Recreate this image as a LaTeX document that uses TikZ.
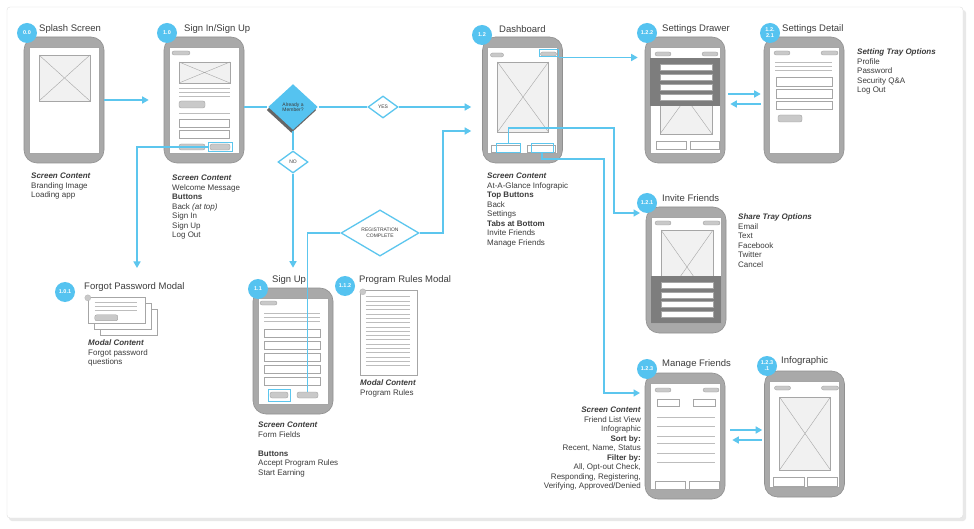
\documentclass[tikz,border=0pt]{standalone}
\usepackage{fontspec}
\setmainfont{Liberation Sans}
\setsansfont{Liberation Sans}
\usepackage{tikz}
\usetikzlibrary{arrows.meta,positioning,calc,shapes.geometric}
\definecolor{flowblue}{HTML}{5CC6EE}
\definecolor{badgeblue}{HTML}{55C3F0}
\definecolor{phonegray}{HTML}{A9A9A9}
\definecolor{phoneedge}{HTML}{909090}
\definecolor{uigray}{HTML}{C9C9C9}
\definecolor{lineg}{HTML}{BDBDBD}
\definecolor{darkui}{HTML}{7D7D7D}
\definecolor{phfill}{HTML}{F1F1F1}
\definecolor{txt}{HTML}{3C3C3C}
\tikzset{
  phone/.style={
    draw=phoneedge,fill=phonegray,rounded corners=13pt,
    minimum width=80pt,minimum height=126pt,inner sep=0,line width=.6pt
  },
  screen/.style={
    draw=gray!70,fill=white,minimum width=70pt,minimum height=106pt,
    inner sep=0,line width=.4pt
  },
  badge/.style={
    circle,fill=badgeblue,minimum size=20pt,inner sep=0,text=white,
    align=center,font=\bfseries\fontsize{5.5}{6}\selectfont
  },
  ttl/.style={anchor=west,inner sep=0,text=txt,font=\fontsize{9.5}{11}\selectfont},
  notes/.style={
    anchor=north west,inner sep=0,align=left,text=txt,
    font=\fontsize{8}{9.5}\selectfont
  },
  pill/.style={fill=uigray,draw=gray!80,rounded corners=2pt,line width=.3pt,inner sep=0},
  field/.style={draw=gray!70,fill=white,line width=.4pt,inner sep=0},
  uiline/.style={draw=lineg,line width=.8pt},
  img/.style={
    draw=gray!70,fill=phfill,line width=.4pt,
    path picture={\draw[gray!70,line width=.4pt]
      (path picture bounding box.north west)--(path picture bounding box.south east)
      (path picture bounding box.north east)--(path picture bounding box.south west);}
  },
  hilite/.style={draw=flowblue,line width=1pt,inner sep=0},
  decision/.style={
    diamond,draw=flowblue,fill=white,line width=1.3pt,inner sep=0,
    align=center,text=txt,font=\fontsize{5}{5.5}\selectfont
  },
  flowline/.style={draw=flowblue,line width=1.5pt},
  flow/.style={draw=flowblue,line width=1.5pt,-{Triangle[length=6.5pt,width=7pt]}}
}
\begin{document}
\begin{tikzpicture}[x=1pt,y=-1pt]
\useasboundingbox (0,0) rectangle (974,529);
\fill[white] (0,0) rectangle (974,529);
% frame
\fill[black!9,rounded corners=3pt] (9,10) rectangle (966,521);
\draw[gray!25,fill=white,rounded corners=3pt] (7,7) rectangle (963,518);

% phones
\node[phone] (splash) at (64,100) {};
\node[screen] (splashS) at (splash) {};
\node[phone] (signin) at (204,100) {};
\node[screen] (signinS) at (signin) {};
\node[phone] (dash) at (522.5,100) {};
\node[screen] (dashS) at (dash) {};
\node[phone] (drawer) at (685,100) {};
\node[screen] (drawerS) at (drawer) {};
\node[phone] (detail) at (804,100) {};
\node[screen] (detailS) at (detail) {};
\node[phone] (invite) at (686,270) {};
\node[screen] (inviteS) at (invite) {};
\node[phone] (manage) at (685,436) {};
\node[screen] (manageS) at (manage) {};
\node[phone] (info) at (804.5,434) {};
\node[screen] (infoS) at (info) {};
\node[phone] (signup) at (293,351) {};
\node[screen] (signupS) at (signup) {};

% splash screen
\begin{scope}[shift={(splash.center)}]
  \path[img] (-25,-45) rectangle (26,1);
\end{scope}

% sign in / sign up
\begin{scope}[shift={(signin.center)}]
  \path[pill] (-32,-49) rectangle (-14,-45);
  \path[img] (-25,-38) rectangle (26,-17);
  \foreach \yy in {-12,-8,-4} \draw[uiline] (-25,\yy) -- (26,\yy);
  \path[pill] (-25,1) rectangle (1,8);
  \draw[uiline] (-25,13) -- (26,13);
  \path[field] (-25,19) rectangle (25,27);
  \path[field] (-25,30) rectangle (25,38);
  \path[pill] (-25,44) rectangle (1,50);
  \path[pill] (6,44) rectangle (26,50);
  \node[hilite,minimum width=24pt,minimum height=9pt] (siForgot) at (16,47) {};
\end{scope}

% dashboard
\begin{scope}[shift={(dash.center)}]
  \path[pill] (-32,-47) rectangle (-19,-43);
  \path[pill] (18,-48) rectangle (34,-44);
  \node[hilite,minimum width=19pt,minimum height=7pt] (dSet) at (26,-46.5) {};
  \path[img] (-25,-38) rectangle (26,32);
  \path[field] (-31,45) rectangle (-2,52);
  \path[field] (5,45) rectangle (33,52);
  \node[hilite,minimum width=24pt,minimum height=9pt] (dTabL) at (-14,48.5) {};
  \node[hilite,minimum width=22pt,minimum height=9pt] (dTabR) at (19.5,48.5) {};
\end{scope}

% settings drawer
\begin{scope}[shift={(drawer.center)}]
  \path[img] (-25,-38) rectangle (27,34);
  \fill[darkui] (-35,-42) rectangle (35,6);
  \foreach \yy in {-36,-26,-16,-6} \path[field] (-25,\yy) rectangle (27,\yy+6);
  \path[pill] (-30,-48) rectangle (-14,-44);
  \path[pill] (17,-48) rectangle (33,-44);
  \path[field] (-29,41) rectangle (1,49);
  \path[field] (5,41) rectangle (34,49);
\end{scope}

% settings detail
\begin{scope}[shift={(detail.center)}]
  \path[pill] (-30,-49) rectangle (-14,-45);
  \path[pill] (17,-49) rectangle (34,-45);
  \foreach \yy in {-38,-34,-30} \draw[uiline] (-29,\yy) -- (28,\yy);
  \path[field] (-28,-23) rectangle (28,-14);
  \path[field] (-28,-11) rectangle (28,-2);
  \path[field] (-28,1) rectangle (28,9);
  \path[pill] (-26,15) rectangle (-2,22);
\end{scope}

% invite friends
\begin{scope}[shift={(invite.center)}]
  \path[img] (-25,-40) rectangle (27,34);
  \fill[darkui] (-35,6) rectangle (35,53);
  \foreach \yy in {12,22,31,41} \path[field] (-25,\yy) rectangle (27,\yy+6);
  \path[pill] (-31,-49) rectangle (-15,-45);
  \path[pill] (17,-49) rectangle (34,-45);
\end{scope}

% manage friends
\begin{scope}[shift={(manage.center)}]
  \path[pill] (-30,-48) rectangle (-14,-44);
  \path[pill] (18,-48) rectangle (34,-44);
  \path[field] (-28,-37) rectangle (-6,-30);
  \path[field] (8,-37) rectangle (30,-30);
  \foreach \yy in {-19,-10,0,7,17,26} \draw[uiline] (-28,\yy) -- (30,\yy);
  \path[field] (-30,45) rectangle (0,53);
  \path[field] (4,45) rectangle (34,53);
\end{scope}

% infographic
\begin{scope}[shift={(info.center)}]
  \path[pill] (-30,-48) rectangle (-14,-44);
  \path[pill] (17,-48) rectangle (34,-44);
  \path[img] (-25,-37) rectangle (26,36);
  \path[field] (-31,43) rectangle (0,52);
  \path[field] (3,43) rectangle (33,52);
\end{scope}

% sign up
\begin{scope}[shift={(signup.center)}]
  \path[pill] (-33,-50) rectangle (-16,-46);
  \foreach \yy in {-38,-34,-30} \draw[uiline] (-29,\yy) -- (27,\yy);
  \foreach \yy in {-22,-10,2,14,26} \path[field] (-29,\yy) rectangle (27,\yy+8);
  \path[pill] (-23,41) rectangle (-5,47);
  \node[hilite,minimum width=22pt,minimum height=12pt] (suRules) at (-14,44) {};
  \node[pill,minimum width=21pt,minimum height=6pt] (suEarn) at (14.5,44) {};
\end{scope}

% forgot password modal
\node[field,minimum width=57pt,minimum height=26pt] (fpCard3) at (128.5,322) {};
\node[field,minimum width=57pt,minimum height=26pt] (fpCard2) at (122.5,316) {};
\node[field,minimum width=57pt,minimum height=26pt] (fpCard) at (116.5,310) {};
\draw[uigray!80!gray,fill=uigray] (fpCard.north west) ++(0,1) circle (3);
\foreach \yy in {6,10,14}
  \draw[uiline] ($(fpCard.north west)+(7,\yy)$) -- ++(42,0);
\path[pill] ($(fpCard.north west)+(7,18)$) rectangle ++(23,6);

% program rules modal
\node[field,minimum width=57pt,minimum height=85pt] (rules) at (388.5,332.5) {};
\draw[uigray!80!gray,fill=uigray] (rules.north west) ++(3,2) circle (3);
\foreach \k in {0,...,16}
  \draw[uiline,line width=.7pt] ($(rules.north west)+(6,7+4.3*\k)$) -- ++(44,0);

% badges
\node[badge] (b00) at (27,33) {0.0};
\node[badge] (b10) at (167,33) {1.0};
\node[badge] (b12) at (482,35) {1.2};
\node[badge] (b122) at (647,33) {1.2.2};
\node[badge] (b1221) at (770,33) {1.2.\\2.1};
\node[badge] (b121) at (647,203) {1.2.1};
\node[badge] (b123) at (647,369) {1.2.3};
\node[badge] (b1231) at (767,366) {1.2.3\\.1};
\node[badge] (b101) at (65,292) {1.0.1};
\node[badge] (b11) at (258,289) {1.1};
\node[badge] (b112) at (345,286) {1.1.2};

% titles
\node[ttl] (tSplash) at (39,29) {Splash Screen};
\node[ttl] (tSignin) at (184,29) {Sign In/Sign Up};
\node[ttl] (tDash) at (499,29) {Dashboard};
\node[ttl] (tDrawer) at (662,29) {Settings Drawer};
\node[ttl] (tDetail) at (782,29) {Settings Detail};
\node[ttl] (tInvite) at (662,198) {Invite Friends};
\node[ttl] (tManage) at (662,364) {Manage Friends};
\node[ttl] (tInfo) at (781,361) {Infographic};
\node[ttl] (tForgot) at (84,287) {Forgot Password Modal};
\node[ttl] (tSignup) at (272,280) {Sign Up};
\node[ttl] (tRules) at (359,280) {Program Rules Modal};

% notes
\node[notes] (nSplash) at (31,173)
{\textbf{\textit{Screen Content}}\\Branding Image\\Loading app};
\node[notes] (nSignin) at (172,175)
{\textbf{\textit{Screen Content}}\\Welcome Message\\\textbf{Buttons}\\
Back \textit{(at top)}\\Sign In\\Sign Up\\Log Out};
\node[notes] (nDash) at (487,173)
{\textbf{\textit{Screen Content}}\\At-A-Glance Infograpic\\\textbf{Top Buttons}\\
Back\\Settings\\\textbf{Tabs at Bottom}\\Invite Friends\\Manage Friends};
\node[notes] (nDetail) at (857,49)
{\textbf{\textit{Setting Tray Options}}\\Profile\\Password\\Security Q\&A\\Log Out};
\node[notes] (nInvite) at (738,214)
{\textbf{\textit{Share Tray Options}}\\Email\\Text\\Facebook\\Twitter\\Cancel};
\node[notes,anchor=north east,align=right] (nManage) at (641,407)
{\textbf{\textit{Screen Content}}\\Friend List View\\Infographic\\\textbf{Sort by:}\\
Recent, Name, Status\\\textbf{Filter by:}\\All, Opt-out Check,\\
Responding, Registering,\\Verifying, Approved/Denied};
\node[notes] (nForgot) at (88,340)
{\textbf{\textit{Modal Content}}\\Forgot password\\questions};
\node[notes] (nSignup) at (258,422)
{\textbf{\textit{Screen Content}}\\Form Fields\\[9.5pt]\textbf{Buttons}\\
Accept Program Rules\\Start Earning};
\node[notes] (nRules) at (360,380)
{\textbf{\textit{Modal Content}}\\Program Rules};

% decisions
\node[decision,draw=none,fill=gray!80!black,minimum width=50pt,minimum height=46pt]
  (memberSh) at (291.5,110) {};
\node[decision,draw=none,fill=badgeblue,minimum width=50pt,minimum height=46pt]
  (member) at (293,107) {Already a\\Member?};
\node[decision,minimum width=30pt,minimum height=22pt] (yes) at (383,107) {YES};
\node[decision,minimum width=30pt,minimum height=22pt] (no) at (293,162) {NO};
\node[decision,minimum width=78pt,minimum height=42pt] (regc) at (380,233)
  {REGISTRATION\\COMPLETE};

\coordinate (fpIn) at (137,268);
\coordinate (jReg) at (443,131);
\coordinate (jInv) at (614,128);
\coordinate (invIn) at (647,213);
\coordinate (jMan) at (604,159);
\coordinate (manIn) at (647,393);

% connectors
\draw[flow,shorten >=15pt] (splash) -- (signin);
\draw[flowline] (signin.east |- member) -- (member);
\draw[flowline] (member) -- (yes);
\draw[flow,shorten >=11pt] (yes) -- (dash.west |- yes);
\draw[flowline] (member) -- (no);
\draw[flow,shorten >=20pt] (no) -- (signup.north);
\draw[flow] (siForgot.west) -| (fpIn);
\draw[flowline] (suEarn.north) |- (regc.west);
\draw[flow,shorten >=11pt] (regc.east) -| (jReg) -- (dash.west |- jReg);
\draw[flow,shorten >=7pt] (dSet.south east) -- (drawer.west |- dSet.south east);
\draw[flow,shorten >=7pt] (dTabL.north) |- (jInv) |- (invIn);
\draw[flow,shorten >=7pt] (dTabR.south) |- (jMan) |- (manIn);
\draw[flow] ($(drawer.east)+(3,-6)$) coordinate (drOut) -- ($(drOut -| detail.west)+(-3,0)$);
\draw[flow] ($(detail.west)+(-3,4)$) coordinate (deOut) -- ($(deOut -| drawer.east)+(5,0)$);
\draw[flow] ($(manage.east)+(5,-6)$) coordinate (maOut) -- ($(maOut -| info.west)+(-2,0)$);
\draw[flow] ($(info.west)+(-2,6)$) coordinate (inOut) -- ($(inOut -| manage.east)+(7,0)$);
\end{tikzpicture}
\end{document}
